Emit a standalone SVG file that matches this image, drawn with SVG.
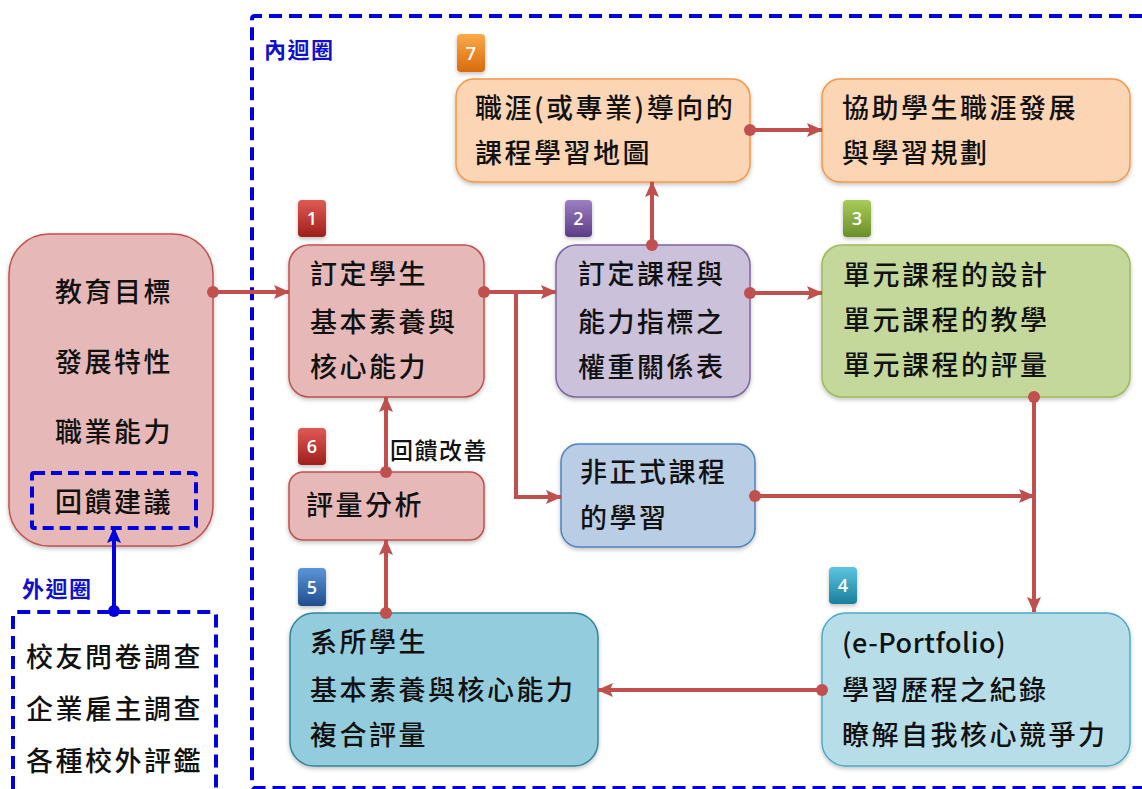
<svg xmlns="http://www.w3.org/2000/svg" width="1142" height="789" viewBox="0 0 1142 789">
<defs>
<style>
.t{font-family:"Noto Sans CJK TC","Noto Sans CJK SC",sans-serif;font-size:27px;font-weight:500;fill:#111;letter-spacing:2.5px}
.lbl{font-family:"Noto Sans CJK TC","Noto Sans CJK SC",sans-serif;font-size:22px;font-weight:700;fill:#1010cc;letter-spacing:1.5px}
.fb{font-family:"Noto Sans CJK TC","Noto Sans CJK SC",sans-serif;font-size:23px;font-weight:500;fill:#111;letter-spacing:1.5px}
.num{font-family:"Open Sans","Noto Sans",sans-serif;font-size:18px;font-weight:600;fill:#fff;text-anchor:middle}
.con{stroke:#c0504d;stroke-width:4;fill:none}
.dot{fill:#c0504d}
.pink{fill:#e6b9b8;stroke:#c0504d;stroke-width:1.5}
.purple{fill:#ccc1da;stroke:#8064a2;stroke-width:1.5}
.green{fill:#c4d89c;stroke:#9bbb59;stroke-width:1.5}
.orange{fill:#fcd5b5;stroke:#f79646;stroke-width:1.5}
.lblue{fill:#b9cde5;stroke:#4f81bd;stroke-width:1.5}
.teal{fill:#93cddd;stroke:#31859c;stroke-width:1.5}
.lteal{fill:#b7dee8;stroke:#4bacc6;stroke-width:1.5}
.dash{fill:none;stroke:#0000dd;stroke-width:4;stroke-dasharray:13 7}
</style>
<filter id="sh" x="-10%" y="-10%" width="120%" height="130%">
<feDropShadow dx="0" dy="2" stdDeviation="2" flood-color="#000" flood-opacity="0.25"/>
</filter>
<marker id="ar" viewBox="0 0 16 16" refX="15" refY="8" markerWidth="16" markerHeight="16" markerUnits="userSpaceOnUse" orient="auto">
<path d="M0,1 L16,8 L0,15 L3,8 Z" fill="#c0504d"/>
</marker>
<marker id="arb" viewBox="0 0 16 16" refX="15" refY="8" markerWidth="16" markerHeight="16" markerUnits="userSpaceOnUse" orient="auto">
<path d="M0,1 L16,8 L0,15 L3,8 Z" fill="#0000dd"/>
</marker>
<linearGradient id="gRed" x1="0" y1="0" x2="0" y2="1"><stop offset="0" stop-color="#e05a55"/><stop offset="1" stop-color="#9e1f1c"/></linearGradient>
<linearGradient id="gPur" x1="0" y1="0" x2="0" y2="1"><stop offset="0" stop-color="#9d7fc4"/><stop offset="1" stop-color="#5c3d87"/></linearGradient>
<linearGradient id="gGrn" x1="0" y1="0" x2="0" y2="1"><stop offset="0" stop-color="#a8cc5a"/><stop offset="1" stop-color="#6a8f28"/></linearGradient>
<linearGradient id="gTel" x1="0" y1="0" x2="0" y2="1"><stop offset="0" stop-color="#5cc5e0"/><stop offset="1" stop-color="#1a7f9c"/></linearGradient>
<linearGradient id="gBlu" x1="0" y1="0" x2="0" y2="1"><stop offset="0" stop-color="#5b95d6"/><stop offset="1" stop-color="#1f4e8f"/></linearGradient>
<linearGradient id="gOrg" x1="0" y1="0" x2="0" y2="1"><stop offset="0" stop-color="#fbaa4a"/><stop offset="1" stop-color="#d86a0c"/></linearGradient>
</defs>
<rect width="1142" height="789" fill="#fff"/>

<g id="inner-loop">
<path class="dash" d="M1142,16 H255 Q252,16 252,19 V785 Q252,788 255,788 H1142"/>
<text class="lbl" x="264" y="58">內迴圈</text>
</g>

<g id="outer-loop">
<path class="dash" d="M13,789 V615 Q13,612 16,612 H213 Q216,612 216,615 V789"/>
<text class="lbl" x="22" y="597">外迴圈</text>
<text class="t" x="26" y="667">校友問卷調查</text>
<text class="t" x="26" y="719">企業雇主調查</text>
<text class="t" x="26" y="771">各種校外評鑑</text>
</g>

<g id="node-goals">
<rect class="pink" x="9" y="234" width="204" height="312" rx="40" filter="url(#sh)"/>
<text class="t" x="55" y="302">教育目標</text>
<text class="t" x="55" y="372">發展特性</text>
<text class="t" x="55" y="442">職業能力</text>
<rect x="32" y="473" width="164" height="55" rx="2" fill="none" stroke="#0000dd" stroke-width="4" stroke-dasharray="11 6"/>
<text class="t" x="55" y="512">回饋建議</text>
</g>

<g id="node-1">
<rect x="298" y="200" width="28" height="37" rx="4" fill="url(#gRed)" filter="url(#sh)"/>
<text class="num" x="312" y="225">1</text>
<rect class="pink" x="289" y="245" width="195" height="152" rx="20" filter="url(#sh)"/>
<text class="t" x="310" y="284">訂定學生</text>
<text class="t" x="310" y="332">基本素養與</text>
<text class="t" x="310" y="377">核心能力</text>
</g>

<g id="node-2">
<rect x="565" y="200" width="27" height="37" rx="4" fill="url(#gPur)" filter="url(#sh)"/>
<text class="num" x="578.5" y="225">2</text>
<rect class="purple" x="556" y="245" width="194" height="152" rx="20" filter="url(#sh)"/>
<text class="t" x="578" y="284">訂定課程與</text>
<text class="t" x="578" y="332">能力指標之</text>
<text class="t" x="578" y="377">權重關係表</text>
</g>

<g id="node-3">
<rect x="843" y="200" width="28" height="37" rx="4" fill="url(#gGrn)" filter="url(#sh)"/>
<text class="num" x="857" y="225">3</text>
<rect class="green" x="822" y="245" width="308" height="152" rx="20" filter="url(#sh)"/>
<text class="t" x="843" y="285">單元課程的設計</text>
<text class="t" x="843" y="330">單元課程的教學</text>
<text class="t" x="843" y="375">單元課程的評量</text>
</g>

<g id="node-7">
<rect x="457" y="34" width="28" height="38" rx="4" fill="url(#gOrg)" filter="url(#sh)"/>
<text class="num" x="471" y="60">7</text>
<rect class="orange" x="456" y="79" width="294" height="103" rx="18" filter="url(#sh)"/>
<text class="t" x="475" y="118">職涯(或專業)導向的</text>
<text class="t" x="475" y="163">課程學習地圖</text>
</g>

<g id="node-career">
<rect class="orange" x="822" y="79" width="308" height="103" rx="18" filter="url(#sh)"/>
<text class="t" x="842" y="118">協助學生職涯發展</text>
<text class="t" x="842" y="163">與學習規劃</text>
</g>

<g id="node-informal">
<rect class="lblue" x="561" y="444" width="194" height="103" rx="18" filter="url(#sh)"/>
<text class="t" x="580" y="482">非正式課程</text>
<text class="t" x="580" y="528">的學習</text>
</g>

<g id="node-6">
<rect x="298" y="428" width="28" height="37" rx="4" fill="url(#gRed)" filter="url(#sh)"/>
<text class="num" x="312" y="453">6</text>
<rect class="pink" x="289" y="472" width="195" height="68" rx="14" filter="url(#sh)"/>
<text class="t" x="306" y="515">評量分析</text>
</g>

<g id="node-5">
<rect x="298" y="568" width="28" height="38" rx="4" fill="url(#gBlu)" filter="url(#sh)"/>
<text class="num" x="312" y="594">5</text>
<rect class="teal" x="290" y="613" width="308" height="153" rx="24" filter="url(#sh)"/>
<text class="t" x="310" y="652">系所學生</text>
<text class="t" x="310" y="700">基本素養與核心能力</text>
<text class="t" x="310" y="745">複合評量</text>
</g>

<g id="node-4">
<rect x="829" y="567" width="28" height="37" rx="4" fill="url(#gTel)" filter="url(#sh)"/>
<text class="num" x="843" y="592">4</text>
<rect class="lteal" x="822" y="613" width="308" height="153" rx="24" filter="url(#sh)"/>
<text class="t" x="842" y="653" style="letter-spacing:0.5px">(e-Portfolio)</text>
<text class="t" x="842" y="700">學習歷程之紀錄</text>
<text class="t" x="842" y="745">瞭解自我核心競爭力</text>
</g>

<g id="connectors">
<path class="con" d="M213,292 H289" marker-end="url(#ar)"/>
<circle class="dot" cx="213" cy="292" r="6"/>
<path class="con" d="M484,292 H556" marker-end="url(#ar)"/>
<circle class="dot" cx="484" cy="292" r="6"/>
<path class="con" d="M516,292 V497 H561" marker-end="url(#ar)"/>
<path class="con" d="M750,293 H822" marker-end="url(#ar)"/>
<circle class="dot" cx="750" cy="293" r="6"/>
<path class="con" d="M652,245 V182" marker-end="url(#ar)"/>
<circle class="dot" cx="652" cy="245" r="6"/>
<path class="con" d="M750,130 H822" marker-end="url(#ar)"/>
<circle class="dot" cx="750" cy="130" r="6"/>
<path class="con" d="M1034,397 V612" marker-end="url(#ar)"/>
<circle class="dot" cx="1034" cy="397" r="6"/>
<path class="con" d="M755,496 H1034" marker-end="url(#ar)"/>
<circle class="dot" cx="755" cy="496" r="6"/>
<path class="con" d="M822,690 H598" marker-end="url(#ar)"/>
<circle class="dot" cx="822" cy="690" r="6"/>
<path class="con" d="M386,613 V540" marker-end="url(#ar)"/>
<circle class="dot" cx="386" cy="613" r="6"/>
<path class="con" d="M386,472 V397" marker-end="url(#ar)"/>
<circle class="dot" cx="386" cy="472" r="6"/>
<text class="fb" x="390" y="459">回饋改善</text>
<path d="M114,611 V528" stroke="#0000dd" stroke-width="4" fill="none" marker-end="url(#arb)"/>
<circle cx="114" cy="611" r="6" fill="#0000dd"/>
</g>
</svg>
